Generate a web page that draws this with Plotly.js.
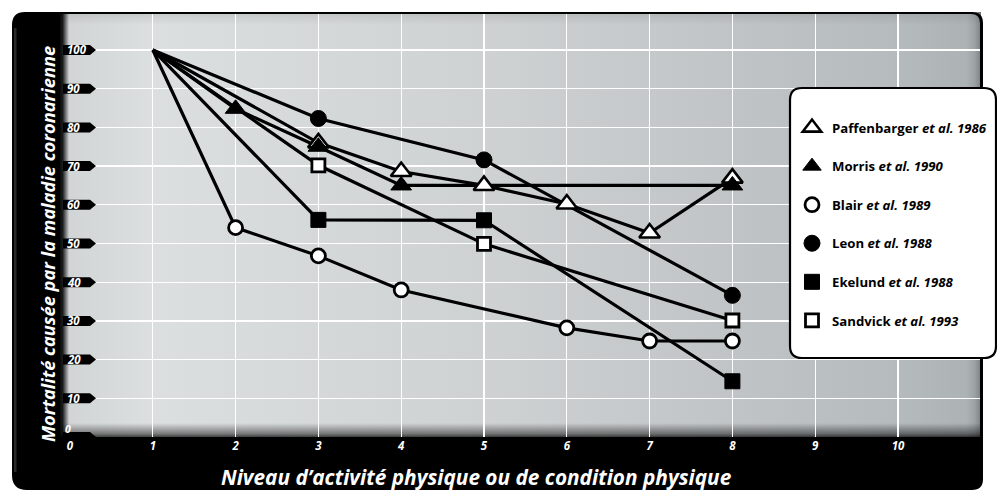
<!DOCTYPE html>
<html>
<head>
<meta charset="utf-8">
<script src="https://cdn.plot.ly/plotly-3.0.1.min.js"></script>
<style>html,body{margin:0;padding:0;background:#fff;}#chart{width:997px;height:491px;}</style>
</head>
<body>
<div id="chart"></div>
<script>
// ---------- data ----------
const seriesNames = ['Paffenbarger', 'Morris', 'Blair', 'Leon', 'Ekelund', 'Sandvick'];
const seriesYears = ['1986', '1990', '1989', '1988', '1988', '1993'];

const paffX = [1, 3, 4, 5, 6, 7, 8];
const paffY = [100, 76, 68.6, 65, 60.2, 52.7, 66.9];

const morrisX = [1, 2, 3, 4, 8];
const morrisY = [100, 84.8, 75, 65, 65];

const blairX = [1, 2, 3, 4, 6, 7, 8];
const blairY = [100, 54.1, 46.8, 38, 28.2, 24.8, 24.8];

const leonX = [1, 3, 5, 8];
const leonY = [100, 82.3, 71.6, 36.6];

const ekelundX = [1, 3, 5, 8];
const ekelundY = [100, 56.1, 56, 14.4];

const sandvickX = [1, 3, 5, 8];
const sandvickY = [100, 70.2, 49.9, 30.1];

const xTicks = [0, 1, 2, 3, 4, 5, 6, 7, 8, 9, 10];
const xTickLabels = ['0', '1', '2', '3', '4', '5', '6', '7', '8', '9', '10'];
const xGrid = [1, 2, 3, 4, 5, 6, 7, 8, 9, 10];
const yTicks = [0, 10, 20, 30, 40, 50, 60, 70, 80, 90, 100];
const yTickLabels = ['0', '10', '20', '30', '40', '50', '60', '70', '80', '90', '100'];
const yGrid = [10, 20, 30, 40, 50, 60, 70, 80, 90, 100];

const xTitle = 'Niveau d’activité physique ou de condition physique';
const yTitle = 'Mortalité causée par la maladie coronarienne';

// ---------- geometry helpers (decoration only) ----------
const W = 997, H = 491;
const px = v => v / W;
const py = v => 1 - v / H;
const P = (x, y) => px(x).toFixed(5) + ',' + py(y).toFixed(5);
const FONT = 'Open Sans, Noto Sans, DejaVu Sans, sans-serif';

const Y_TOP = 109.3;
const PLOT_TOP = 14, PLOT_BOT = 437, PLOT_L = 68, PLOT_R = 980;
const unitsPerPx = Y_TOP / (PLOT_BOT - PLOT_TOP);

// ---------- traces ----------
const series = [
  {x: paffX, y: paffY, sym: 'triangle-up', fill: '#ffffff', size: 18, lw: 2.6},
  {x: morrisX, y: morrisY, sym: 'triangle-up', fill: '#000000', size: 18, lw: 1},
  {x: blairX, y: blairY, sym: 'circle', fill: '#ffffff', size: 14, lw: 2.8},
  {x: leonX, y: leonY, sym: 'circle', fill: '#000000', size: 16, lw: 1},
  {x: ekelundX, y: ekelundY, sym: 'square', fill: '#000000', size: 15, lw: 1},
  {x: sandvickX, y: sandvickY, sym: 'square', fill: '#ffffff', size: 13, lw: 2.8}
];

const traces = [];
series.forEach((s, i) => {
  traces.push({
    type: 'scatter', mode: 'lines', x: s.x, y: s.y,
    line: {color: '#000', width: 3.2},
    showlegend: false, legendgroup: 'g' + i, hoverinfo: 'skip'
  });
});
// markers (no marker at the common starting point x = 1)
[2, 3, 4, 5, 0, 1].forEach(i => {
  const s = series[i];
  traces.push({
    type: 'scatter', mode: 'markers', x: s.x.slice(1), y: s.y.slice(1),
    name: seriesNames[i] + ' <i>et al. ' + seriesYears[i] + '</i>',
    legendgroup: 'g' + i, legendrank: i + 1, showlegend: true,
    marker: {symbol: s.sym, size: s.size, color: s.fill, line: {color: '#000', width: s.lw}},
    hoverinfo: 'skip'
  });
});

// ---------- background gradient (image) ----------
const gx0 = 58, gx1 = 981, gy0 = 12, gy1 = 438;
const gw = gx1 - gx0, gh = gy1 - gy0;
const svg = "<svg xmlns='http://www.w3.org/2000/svg' width='" + gw + "' height='" + gh + "' viewBox='0 0 " + gw + " " + gh + "' preserveAspectRatio='none'>" +
  "<defs><linearGradient id='h' x1='0' y1='0' x2='1' y2='0'>" +
  "<stop offset='0' stop-color='#000'/>" +
  "<stop offset='0.005' stop-color='#1a1c1c'/>" +
  "<stop offset='0.012' stop-color='#d2d5d6'/>" +
  "<stop offset='0.1' stop-color='#dcdfe0'/>" +
  "<stop offset='0.48' stop-color='#ced1d2'/>" +
  "<stop offset='0.9' stop-color='#b6bbbd'/>" +
  "<stop offset='0.984' stop-color='#adb3b5'/>" +
  "<stop offset='0.993' stop-color='#9ca3a5'/>" +
  "<stop offset='1' stop-color='#7a8284'/>" +
  "</linearGradient>" +
  "<linearGradient id='v' x1='0' y1='0' x2='0' y2='1'>" +
  "<stop offset='0' stop-color='#000' stop-opacity='0.10'/>" +
  "<stop offset='0.03' stop-color='#000' stop-opacity='0'/>" +
  "<stop offset='0.965' stop-color='#000' stop-opacity='0'/>" +
  "<stop offset='0.99' stop-color='#000' stop-opacity='0.45'/>" +
  "<stop offset='1' stop-color='#000' stop-opacity='0.8'/>" +
  "</linearGradient></defs>" +
  "<rect x='0' y='0' width='" + gw + "' height='" + gh + "' fill='url(#h)'/>" +
  "<rect x='0' y='0' width='" + gw + "' height='" + gh + "' fill='url(#v)'/></svg>";

const images = [{
  source: 'data:image/svg+xml;charset=utf-8,' + encodeURIComponent(svg),
  xref: 'paper', yref: 'paper', x: px(gx0), y: py(gy0),
  sizex: gw / W, sizey: gh / H, xanchor: 'left', yanchor: 'top',
  sizing: 'stretch', layer: 'below'
}];

// ---------- shapes ----------
const shapes = [];
const framePath =
  'M' + P(12, 25) + ' Q' + P(12, 12) + ' ' + P(25, 12) +
  ' L' + P(972, 12) + ' Q' + P(983, 12) + ' ' + P(983, 23) +
  ' L' + P(983, 479) + ' Q' + P(983, 490) + ' ' + P(972, 490) +
  ' L' + P(27, 490) + ' Q' + P(12, 490) + ' ' + P(12, 475) + ' Z' +
  ' M' + P(60, PLOT_TOP) + ' L' + P(60, PLOT_BOT) + ' L' + P(PLOT_R, PLOT_BOT) +
  ' L' + P(PLOT_R, 23) + ' Q' + P(PLOT_R, PLOT_TOP) + ' ' + P(971, PLOT_TOP) + ' Z';
shapes.push({type: 'path', xref: 'paper', yref: 'paper', path: framePath,
  fillcolor: '#000', line: {width: 0}, layer: 'below', fillrule: 'evenodd'});
// soft highlight at the far left edge of the frame
shapes.push({type: 'path', xref: 'paper', yref: 'paper',
  path: 'M' + P(14, 28) + ' L' + P(16.5, 28) + ' L' + P(16.5, 472) + ' L' + P(14, 472) + ' Z',
  fillcolor: 'rgba(110,118,120,0.35)', line: {width: 0}, layer: 'below'});

// y tick tags (black arrow labels)
const dy = 5 * unitsPerPx;
yTicks.forEach(v => {
  const path = 'M' + px(63).toFixed(5) + ',' + (v - dy) +
    ' L' + px(90).toFixed(5) + ',' + (v - dy) +
    ' L' + px(96).toFixed(5) + ',' + v +
    ' L' + px(90).toFixed(5) + ',' + (v + dy) +
    ' L' + px(63).toFixed(5) + ',' + (v + dy) + ' Z';
  shapes.push({type: 'path', xref: 'paper', yref: 'y', path: path,
    fillcolor: '#000', line: {width: 0}, layer: 'above'});
});

// legend box
const legendPath =
  'M' + P(790, 100) + ' Q' + P(790, 88) + ' ' + P(802, 88) +
  ' L' + P(984, 88) + ' Q' + P(996, 88) + ' ' + P(996, 100) +
  ' L' + P(996, 346) + ' Q' + P(996, 358) + ' ' + P(984, 358) +
  ' L' + P(802, 358) + ' Q' + P(790, 358) + ' ' + P(790, 346) + ' Z';
shapes.push({type: 'path', xref: 'paper', yref: 'paper', path: legendPath,
  fillcolor: '#fff', line: {color: '#000', width: 2.2}, layer: 'above'});

// ---------- annotations ----------
const annotations = [];
yTicks.forEach((v, i) => {
  annotations.push({
    xref: 'paper', yref: 'y', x: px(v === 0 ? 63 : 65), y: v,
    xanchor: 'left', yanchor: 'middle', yshift: v === 0 ? 8 : 0,
    text: yTickLabels[i], showarrow: false,
    font: {family: FONT, size: v === 0 ? 10.5 : 11.5, color: '#fff', weight: 700, style: 'italic'}
  });
});
annotations.push({
  xref: 'paper', yref: 'paper', x: px(476), y: py(477),
  xanchor: 'center', yanchor: 'middle', text: xTitle, showarrow: false,
  font: {family: FONT, size: 20.8, color: '#fff', weight: 700, style: 'italic'}
});
annotations.push({
  xref: 'paper', yref: 'paper', x: px(47), y: py(244),
  xanchor: 'center', yanchor: 'middle', text: yTitle, showarrow: false, textangle: -90,
  font: {family: FONT, size: 18.3, color: '#fff', weight: 700, style: 'italic'}
});

// ---------- layout ----------
const layout = {
  width: W, height: H,
  margin: {l: 0, r: 0, t: 0, b: 0, pad: 0},
  paper_bgcolor: '#fff', plot_bgcolor: 'rgba(0,0,0,0)',
  showlegend: true,
  legend: {
    x: px(792), y: py(112.5), xanchor: 'left', yanchor: 'top',
    bgcolor: 'rgba(0,0,0,0)', borderwidth: 0,
    traceorder: 'grouped', tracegroupgap: 18.4,
    font: {family: FONT, size: 13.2, color: '#000', weight: 700}
  },
  xaxis: {
    domain: [px(PLOT_L), px(PLOT_R)],
    range: [-2 / 82.8, (PLOT_R - 70) / 82.8],
    tickmode: 'array', tickvals: xTicks, ticktext: xTickLabels,
    ticks: '', showgrid: false, zeroline: false, showline: false,
    tickfont: {family: FONT, size: 11.5, color: '#fff', weight: 700, style: 'italic'},
    minor: {tickmode: 'array', tickvals: xGrid, showgrid: true, gridcolor: '#ffffff', gridwidth: 1.3, ticks: ''},
    fixedrange: true
  },
  yaxis: {
    domain: [py(PLOT_BOT), py(PLOT_TOP)],
    range: [0, Y_TOP],
    tickmode: 'array', tickvals: yGrid, showticklabels: false,
    ticks: '', showgrid: true, gridcolor: '#ffffff', gridwidth: 1.3,
    zeroline: false, showline: false, fixedrange: true
  },
  images: images,
  shapes: shapes,
  annotations: annotations,
  hovermode: false
};

Plotly.newPlot('chart', traces, layout, {staticPlot: true, displayModeBar: false});
</script>
</body>
</html>
